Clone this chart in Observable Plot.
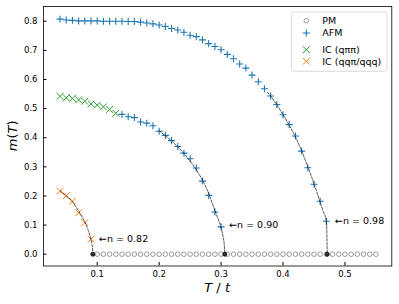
<!DOCTYPE html>
<html><head><meta charset="utf-8">
<script src="https://cdn.jsdelivr.net/npm/d3@7"></script>
<script src="https://cdn.jsdelivr.net/npm/@observablehq/plot@0.6"></script>
<style>html,body{margin:0;padding:0;background:#fff}svg{display:block}</style>
</head><body><div id="chart"></div>
<script>
// ---- data ----
const pmT = [0.10,0.11,0.12,0.13,0.14,0.15,0.16,0.17,0.18,0.19,0.20,0.21,0.22,0.23,0.24,0.25,0.26,0.27,0.28,0.29,0.30,0.31,0.32,0.33,0.34,0.35,0.36,0.37,0.38,0.39,0.40,0.41,0.42,0.43,0.44,0.45,0.46,0.47,0.48,0.49,0.50,0.51,0.52,0.53,0.54,0.55];

// AFM, n = 0.98
const afm98T = [0.04,0.05,0.06,0.07,0.08,0.09,0.10,0.11,0.12,0.13,0.14,0.15,0.16,0.17,0.18,0.19,0.20,0.21,0.22,0.23,0.24,0.25,0.26,0.27,0.28,0.29,0.30,0.31,0.32,0.33,0.34,0.35,0.36,0.37,0.38,0.39,0.40,0.41,0.42,0.43,0.44,0.45,0.46,0.47];
const afm98M = [0.807,0.804,0.803,0.801,0.801,0.801,0.801,0.800,0.800,0.800,0.800,0.799,0.799,0.797,0.794,0.791,0.787,0.782,0.775,0.770,0.762,0.752,0.747,0.736,0.723,0.713,0.702,0.686,0.671,0.653,0.639,0.615,0.592,0.568,0.543,0.514,0.479,0.445,0.406,0.354,0.297,0.240,0.182,0.113];

// n = 0.90 : IC (q pi pi) then AFM
const ic90T = [0.04,0.05,0.06,0.07,0.08,0.09,0.10,0.11,0.12,0.13];
const ic90M = [0.542,0.537,0.535,0.530,0.525,0.516,0.512,0.506,0.497,0.484];
const afm90T = [0.14,0.15,0.16,0.17,0.18,0.19,0.20,0.21,0.22,0.23,0.24,0.25,0.26,0.27,0.28,0.29,0.30];
const afm90M = [0.480,0.472,0.469,0.454,0.450,0.441,0.422,0.408,0.390,0.370,0.347,0.328,0.296,0.251,0.202,0.145,0.094];

// n = 0.82 : IC (qq pi / qqq)
const ic82T = [0.04,0.05,0.06,0.07,0.08,0.09];
const ic82M = [0.216,0.201,0.182,0.142,0.108,0.052];

// fitted curves (dashed)
const fit82T = [0.040,0.045,0.050,0.055,0.060,0.065,0.070,0.075,0.080,0.085,0.088,0.090,0.0915,0.0925,0.093];
const fit82M = [0.218,0.209,0.200,0.191,0.180,0.165,0.148,0.130,0.110,0.085,0.066,0.052,0.035,0.020,0.0];
const fit90T = [0.200,0.210,0.220,0.230,0.240,0.250,0.260,0.270,0.280,0.290,0.295,0.300,0.303,0.305,0.306];
const fit90M = [0.424,0.407,0.389,0.369,0.346,0.320,0.290,0.254,0.208,0.150,0.122,0.092,0.062,0.035,0.0];
const fit98T = [0.375,0.380,0.390,0.400,0.410,0.420,0.430,0.440,0.450,0.460,0.465,0.470,0.4708,0.4713];
const fit98M = [0.556,0.543,0.513,0.479,0.443,0.403,0.355,0.300,0.242,0.178,0.146,0.112,0.070,0.0];

// critical temperatures and annotations
const tcT = [0.093,0.306,0.4713];
const nValues = ["0.82","0.90","0.98"];
const annT = [0.103,0.313,0.484];
const annM = [0.054,0.0995,0.115];

const xTicks = [0.1,0.2,0.3,0.4,0.5];
const yTicks = [0.0,0.1,0.2,0.3,0.4,0.5,0.6,0.7,0.8];

const legendNames = ["PM","AFM","IC (qππ)","IC (qqπ/qqq)"];
const colAFM = "#1f77b4", colIC1 = "#2ca02c", colIC2 = "#ff7f0e", colPM = "#808080";

// ---- build tables ----
const zip = (T, M) => T.map((t, i) => ({T: t, m: M[i]}));
const pm = pmT.map(t => ({T: t, m: 0}));
const afm98 = zip(afm98T, afm98M);
const afm90 = zip(afm90T, afm90M);
const ic90 = zip(ic90T, ic90M);
const ic82 = zip(ic82T, ic82M);
const fits = [zip(fit82T, fit82M), zip(fit90T, fit90M), zip(fit98T, fit98M)];
const tc = tcT.map(t => ({T: t, m: 0}));
const ann = nValues.map((n, i) => ({T: annT[i], m: annM[i], n}));

const fmt = d3.format(".1f");
const fitMarks = fits.map(f => Plot.line(f, {x: "T", y: "m", stroke: "#000", strokeWidth: 0.8, strokeDasharray: "2.5,1.5", strokeOpacity: 0.85, curve: "monotone-x"}));

const chart = Plot.plot({
  width: 399, height: 304,
  marginLeft: 43, marginRight: 7.7, marginTop: 6, marginBottom: 38.5,
  style: {fontFamily: "DejaVu Sans", fontSize: "8.5px", color: "#000", background: "#fff"},
  x: {domain: [0.0133, 0.5756]},
  y: {domain: [-0.0405, 0.8505]},
  marks: [
    Plot.axisX(xTicks, {tickSize: -3.5, tickPadding: 8, tickFormat: fmt, label: null, stroke: "#000"}),
    Plot.axisY(yTicks, {tickSize: -3.5, tickPadding: 9.5, tickFormat: fmt, label: null, stroke: "#000"}),
    Plot.dot(pm, {x: "T", y: "m", r: 2.3, stroke: colPM, fill: "none", strokeWidth: 0.8}),
    Plot.dot(afm98, {x: "T", y: "m", symbol: "plus", r: 2.4, stroke: colAFM, strokeWidth: 1.1}),
    Plot.dot(afm90, {x: "T", y: "m", symbol: "plus", r: 2.4, stroke: colAFM, strokeWidth: 1.1}),
    Plot.dot(ic90, {x: "T", y: "m", symbol: "times", r: 3.2, stroke: colIC1, strokeWidth: 1.0}),
    Plot.dot(ic82, {x: "T", y: "m", symbol: "times", r: 3.2, stroke: colIC2, strokeWidth: 1.0}),
    ...fitMarks,
    Plot.dot(tc, {x: "T", y: "m", r: 2, stroke: "#000", fill: "#333", strokeWidth: 0.8}),
    Plot.text(ann, {x: "T", y: "m", text: d => "←n = " + d.n, textAnchor: "start", lineAnchor: "middle", fontSize: 9.5, fill: "#000", ariaLabel: "annot"}),
    Plot.frame({stroke: "#000", strokeWidth: 0.8})
  ]
});
document.getElementById("chart").appendChild(chart);

const svg = d3.select(chart);
// italic n in annotations
svg.selectAll('g[aria-label="annot"] text').each(function() {
  const t = d3.select(this);
  const full = t.text();
  const val = full.split("= ")[1];
  t.text(null);
  t.append("tspan").text("←");
  t.append("tspan").attr("font-style", "italic").text("n");
  t.append("tspan").text(" = " + val);
});

const xs = chart.scale("x"), ys = chart.scale("y");
const cx = (xs.range[0] + xs.range[1]) / 2;
const cy = (ys.range[0] + ys.range[1]) / 2;

// axis labels
const xl = svg.append("text").attr("x", cx).attr("y", 292).attr("text-anchor", "middle")
  .attr("font-family", "DejaVu Sans").attr("font-size", 13);
xl.append("tspan").attr("font-style", "italic").text("T");
xl.append("tspan").text(" / ");
xl.append("tspan").attr("font-style", "italic").text("t");

const yl = svg.append("text").attr("transform", `translate(17,${cy}) rotate(-90)`).attr("text-anchor", "middle")
  .attr("font-family", "DejaVu Sans").attr("font-size", 13);
yl.append("tspan").attr("font-style", "italic").text("m");
yl.append("tspan").text("(");
yl.append("tspan").attr("font-style", "italic").text("T");
yl.append("tspan").text(")");

// legend
const lg = svg.append("g");
lg.append("rect").attr("x", 291.3).attr("y", 12).attr("width", 95.7).attr("height", 59.3).attr("rx", 2.5)
  .attr("fill", "#fff").attr("fill-opacity", 0.8).attr("stroke", "#d0d0d0").attr("stroke-width", 0.8);
const rowsY = [20.7, 33, 49.7, 61.3];
const legSym = [
  {type: d3.symbolCircle, r: 2.3, color: colPM, w: 0.8},
  {type: d3.symbolPlus, r: 2.4, color: colAFM, w: 1.1},
  {type: d3.symbolTimes, r: 3.2, color: colIC1, w: 1.0},
  {type: d3.symbolTimes, r: 3.2, color: colIC2, w: 1.0}
];
legendNames.forEach((name, i) => {
  const s = legSym[i];
  lg.append("path").attr("d", d3.symbol(s.type, s.r * s.r * Math.PI)())
    .attr("transform", `translate(306.3,${rowsY[i]})`)
    .attr("fill", "none").attr("stroke", s.color).attr("stroke-width", s.w);
  lg.append("text").attr("x", 322.3).attr("y", rowsY[i]).attr("dy", "0.35em").attr("text-anchor", "start")
    .attr("font-family", "DejaVu Sans").attr("font-size", 9.5).attr("fill", "#000").text(name);
});
</script>
</body></html>
